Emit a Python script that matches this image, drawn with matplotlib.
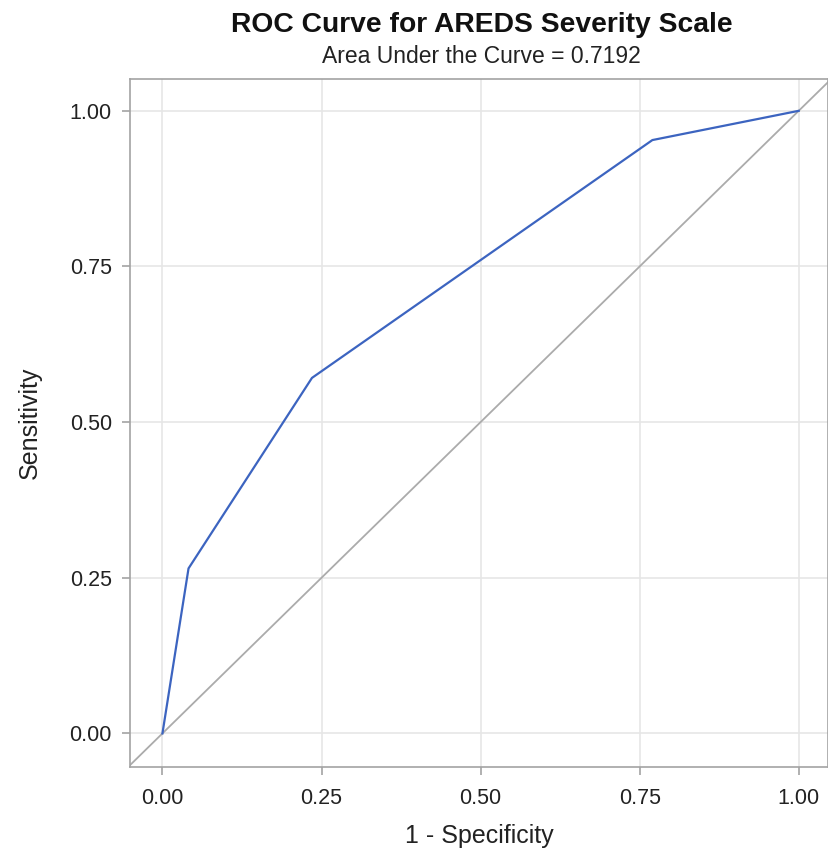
import numpy as np
import matplotlib.pyplot as plt

# ROC points
fpr = [0.0, 0.041, 0.235, 0.770, 1.0]
tpr = [0.0, 0.265, 0.571, 0.953, 1.0]
ticks = [0.0, 0.25, 0.50, 0.75, 1.00]
tick_labels = ["0.00", "0.25", "0.50", "0.75", "1.00"]
auc = 0.7192

plt.rcParams['font.family'] = ['Liberation Sans', 'DejaVu Sans']

fig = plt.figure(figsize=(8.29, 8.5), dpi=100)
ax = fig.add_axes([0.1568, 0.0976, 0.8420, 0.8094])

ax.axline((0, 0), (1, 1), color="#ababab", lw=1.3, zorder=2)
ax.plot(fpr, tpr, color="#3c64c0", lw=1.6, zorder=3)

ax.set_xlim(-0.051, 1.046)
ax.set_ylim(-0.054, 1.051)
ax.set_xticks(ticks)
ax.set_xticklabels(tick_labels)
ax.set_yticks(ticks)
ax.set_yticklabels(tick_labels)
ax.grid(True, color="#e6e6e6", lw=1.2, zorder=0)
ax.set_axisbelow(True)

for s in ax.spines.values():
    s.set_color("#a3a3a3")
    s.set_linewidth(1.2)

ax.tick_params(colors="#a3a3a3", labelcolor="#222222", labelsize=15.5,
               length=6, width=1.2)
ax.tick_params(axis="x", pad=9)
ax.tick_params(axis="y", pad=7)
ax.set_xlabel("1 - Specificity", fontsize=18, color="#222222", labelpad=11)
ax.set_ylabel("Sensitivity", fontsize=18, color="#222222", labelpad=20)

fig.text(0.581, 0.970, "ROC Curve for AREDS Severity Scale", ha="center",
         va="center", fontsize=20.3, fontweight="bold", color="#111111")
fig.text(0.581, 0.934, "Area Under the Curve = %.4f" % auc, ha="center",
         va="center", fontsize=16.5, color="#222222")

fig.savefig("out.png", dpi=100)
